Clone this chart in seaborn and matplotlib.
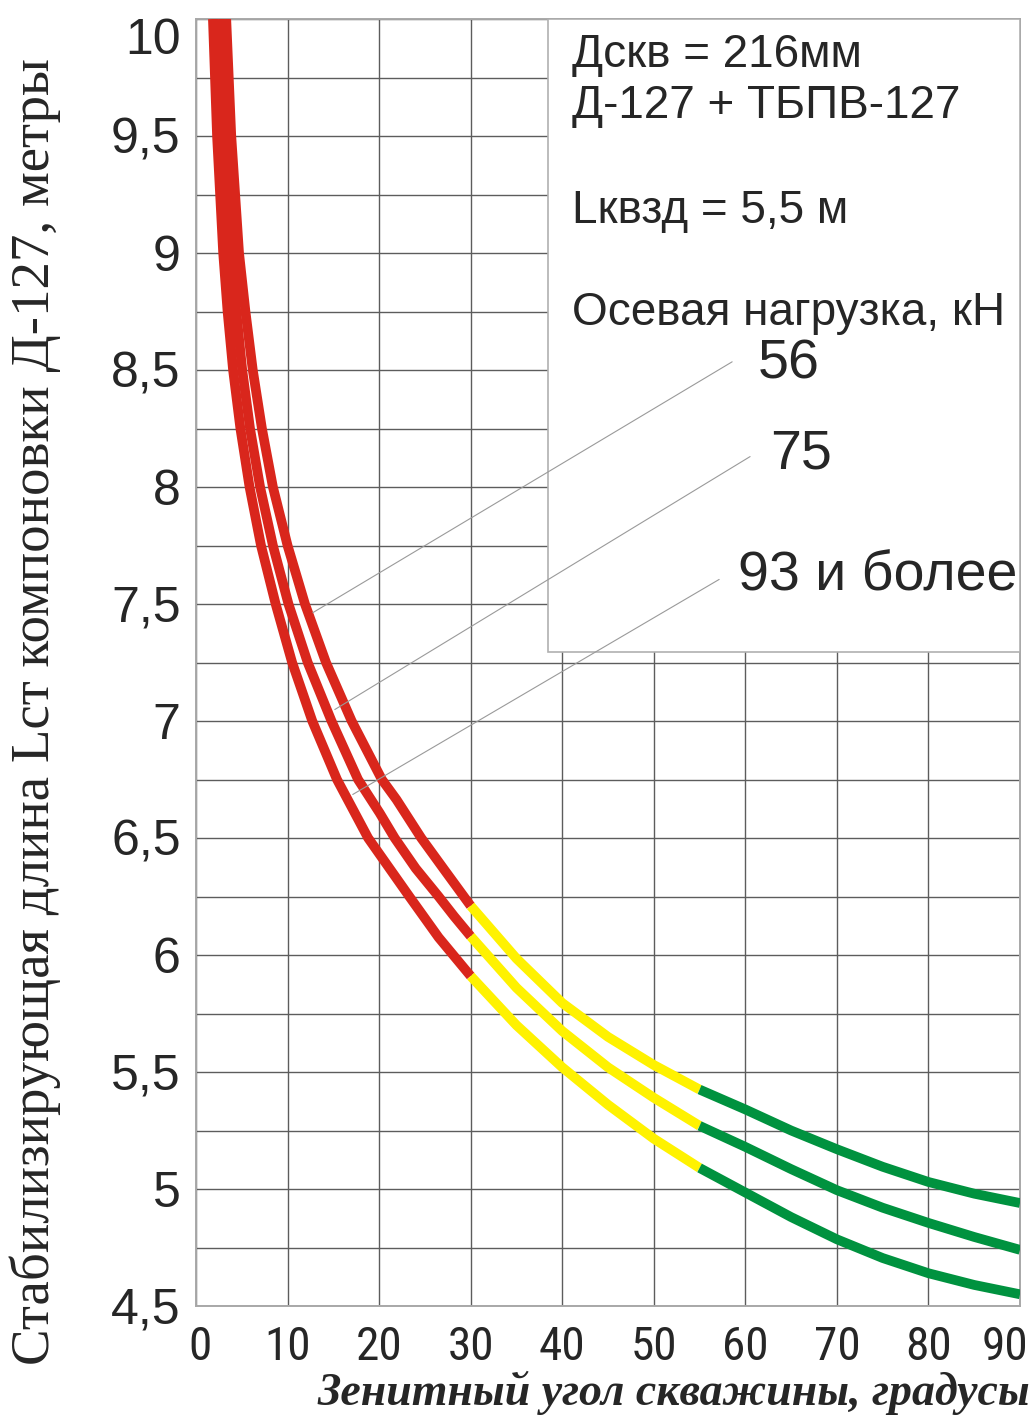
import matplotlib
matplotlib.use("Agg")
import matplotlib.pyplot as plt
import matplotlib.transforms as mtransforms
from matplotlib.patches import Rectangle
import pandas as pd
import seaborn as sns

# Стабилизирующая длина компоновки Д-127 (м) в зависимости от зенитного угла (град)
angle_56 = [3.3, 3.85, 4.7, 5.4, 6.2, 7.2, 8.4, 10.0, 11.9, 14.2, 17.0, 20.3, 21.9, 24.6,
            27.2, 30, 35, 40, 45, 50, 55, 60, 65, 70, 75, 80, 85, 90]
length_56 = [10.0, 9.5, 9.0, 8.75, 8.5, 8.25, 8.0, 7.75, 7.5, 7.25, 7.0, 6.75, 6.664, 6.5,
             6.36, 6.21, 5.985, 5.795, 5.65, 5.53, 5.425, 5.34, 5.25, 5.17, 5.095, 5.03,
             4.98, 4.94]

angle_75 = [2.6, 3.1, 3.85, 4.4, 5.05, 5.9, 7.0, 8.4, 10.1, 12.2, 14.8, 17.7, 20.06, 21.7,
            24.0, 26.5, 28.2, 30, 35, 40, 45, 50, 55, 60, 65, 70, 75, 80, 85, 90]
length_75 = [10.0, 9.5, 9.0, 8.75, 8.5, 8.25, 8.0, 7.75, 7.5, 7.25, 7.0, 6.75, 6.607, 6.5,
             6.37, 6.25, 6.165, 6.08, 5.86, 5.675, 5.52, 5.39, 5.27, 5.18, 5.085, 4.995,
             4.92, 4.855, 4.795, 4.74]

angle_93 = [1.85, 2.3, 2.97, 3.45, 4.05, 4.85, 5.85, 7.1, 8.7, 10.5, 12.7, 15.4, 18.8, 20.06,
            23.3, 26.5, 30, 35, 40, 45, 50, 55, 60, 65, 70, 75, 80, 85, 90]
length_93 = [10.0, 9.5, 9.0, 8.75, 8.5, 8.25, 8.0, 7.75, 7.5, 7.25, 7.0, 6.75, 6.5, 6.43,
             6.25, 6.075, 5.91, 5.70, 5.52, 5.36, 5.215, 5.09, 4.985, 4.88, 4.785, 4.705,
             4.64, 4.59, 4.55]

load_labels = ["56", "75", "93 и более"]

# границы цветовых зон по зенитному углу
zone_edges = [0, 30, 55, 90]
zone_colors = ["#d9261c", "#fff200", "#00923f"]

x_ticks = [0, 10, 20, 30, 40, 50, 60, 70, 80, 90]
y_ticks = [4.5, 5, 5.5, 6, 6.5, 7, 7.5, 8, 8.5, 9, 9.5, 10]
y_tick_labels = ["4,5", "5", "5,5", "6", "6,5", "7", "7,5", "8", "8,5", "9", "9,5", "10"]

info_lines = ["Дскв = 216мм", "Д-127 + ТБПВ-127", "Lквзд = 5,5 м", "Осевая нагрузка, кН"]

sns.set_style("white")
plt.rcParams["font.family"] = ["Liberation Sans", "DejaVu Sans"]
narrow_family = ["Liberation Sans Narrow", "DejaVu Sans Condensed", "Noto Sans Condensed",
                 "Roboto Condensed", "DejaVu Sans"]
serif_family = ["Liberation Serif", "DejaVu Serif"]

curves = pd.concat([
    pd.DataFrame({"angle": angle_56, "length": length_56, "load": load_labels[0]}),
    pd.DataFrame({"angle": angle_75, "length": length_75, "load": load_labels[1]}),
    pd.DataFrame({"angle": angle_93, "length": length_93, "load": load_labels[2]}),
], ignore_index=True)

fig = plt.figure(figsize=(10.35, 14.18), dpi=100)
ax = fig.add_axes([196 / 1035, 1 - 1306 / 1418, 824 / 1035, (1306 - 19) / 1418])

for load in load_labels:
    sub = curves[curves["load"] == load]
    for lo, hi, col in zip(zone_edges[:-1], zone_edges[1:], zone_colors):
        seg = sub[(sub["angle"] >= lo) & (sub["angle"] <= hi)]
        sns.lineplot(data=seg, x="angle", y="length", ax=ax, color=col, lw=7.0,
                     sort=False, estimator=None, solid_capstyle="butt",
                     solid_joinstyle="round", zorder=4)

ax.set_xlim(0, 90)
ax.set_ylim(4.5, 10)
ax.set_xticks(x_ticks)
ax.set_xticklabels([str(t) for t in x_ticks], family=narrow_family,
                   fontstretch="condensed", fontsize=34)
ax.set_yticks(y_ticks)
ax.set_yticks([v + 0.25 for v in y_ticks[:-1]], minor=True)
ax.set_yticklabels(y_tick_labels, fontsize=36)
ax.tick_params(axis="both", which="both", length=0)
ax.tick_params(axis="y", pad=11)
ax.tick_params(axis="x", pad=14)
ax.grid(True, which="both", color="#5c5c5c", lw=1.0)
ax.set_axisbelow(True)
for side in ax.spines.values():
    side.set_color("#a8a8a8")
    side.set_linewidth(1.4)
ax.set_xlabel("")
ax.set_ylabel("")

# крайние подписи осей сдвинуты внутрь, чтобы не выходить за край
top_label = ax.get_yticklabels()[-1]
top_label.set_transform(top_label.get_transform()
                        + mtransforms.ScaledTranslation(0, -17 / 100, fig.dpi_scale_trans))
last_x = ax.get_xticklabels()[-1]
last_x.set_transform(last_x.get_transform()
                     + mtransforms.ScaledTranslation(-15 / 100, 0, fig.dpi_scale_trans))
first_x = ax.get_xticklabels()[0]
first_x.set_transform(first_x.get_transform()
                      + mtransforms.ScaledTranslation(4 / 100, 0, fig.dpi_scale_trans))

# поле с параметрами компоновки
box = Rectangle((0.427, 0.508), 0.573, 0.492, transform=ax.transAxes,
                facecolor="white", edgecolor="#b0b0b0", lw=1.2, zorder=3)
ax.add_patch(box)
info_y = [0.9627, 0.923, 0.8415, 0.762]
for txt, yy in zip(info_lines, info_y):
    ax.text(0.456, yy, txt, transform=ax.transAxes, fontsize=33, va="baseline",
            ha="left", zorder=6)

# выноски к кривым
leaders = [
    ((12.76, 7.463), (58.56, 8.535), (0.682, 0.721)),
    ((15.16, 7.049), (60.52, 8.13), (0.697, 0.651)),
    ((17.12, 6.686), (57.14, 7.605), (0.658, 0.5563)),
]
for label, (p0, p1, tpos) in zip(load_labels, leaders):
    ax.plot([p0[0], p1[0]], [p0[1], p1[1]], color="#9a9a9a", lw=0.8, zorder=5)
    ax.text(tpos[0], tpos[1], label, transform=ax.transAxes, fontsize=40,
            va="baseline", ha="left", zorder=6)

fig.text(35 / 1035, 1 - 712 / 1418,
         "Стабилизирующая длина Lст компоновки Д-127, метры",
         rotation=90, ha="center", va="center", fontsize=39.5, family=serif_family)
fig.text(1030 / 1035, 1 - 1405 / 1418, "Зенитный угол скважины, градусы",
         ha="right", va="baseline", fontsize=33, fontweight="bold", fontstyle="italic",
         family=serif_family)

fig.savefig("out.png", dpi=100, facecolor="white")
